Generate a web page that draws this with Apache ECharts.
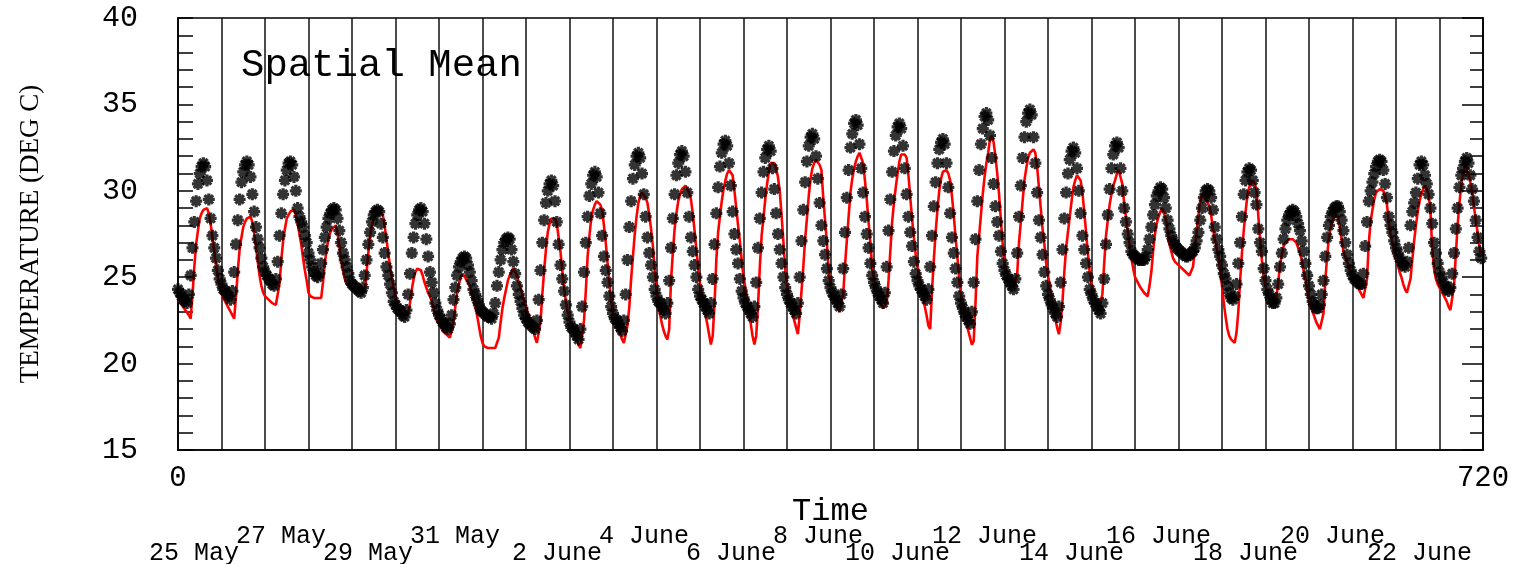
<!DOCTYPE html>
<html>
<head>
<meta charset="utf-8">
<script src="https://cdn.jsdelivr.net/npm/echarts@6/dist/echarts.min.js"></script>
<style>
html,body{margin:0;padding:0;background:#fff;}
#chart{width:1514px;height:564px;}
</style>
</head>
<body>
<div id="chart"></div>
<script>
// Hourly observed spatial-mean temperature (deg C), 30 days x 24 hours, hour 0 = 25 May 00h
const observed = [
24.3,24.1,23.9,23.7,23.6,23.5,24.0,25.1,26.7,28.2,29.4,30.4,31.0,31.4,31.6,31.4,30.6,29.5,28.4,27.4,26.7,26.1,25.4,24.9,
24.6,24.3,24.2,24.0,23.9,23.7,24.2,25.3,26.9,28.3,29.5,30.5,31.1,31.5,31.7,31.5,30.8,29.8,28.8,27.9,27.2,26.7,26.1,25.6,
25.3,25.1,24.9,24.8,24.6,24.5,24.9,25.9,27.4,28.7,29.8,30.6,31.2,31.6,31.7,31.5,30.8,30.0,29.0,28.5,28.2,27.9,27.4,27.0,
26.4,26.0,25.6,25.3,25.1,25.0,25.2,25.8,26.6,27.3,27.9,28.4,28.7,28.9,29.0,28.9,28.4,27.7,27.0,26.4,26.0,25.6,25.2,24.8,
24.6,24.5,24.4,24.3,24.2,24.1,24.4,25.1,26.0,26.9,27.6,28.2,28.6,28.8,28.9,28.8,28.1,27.3,26.4,25.6,25.1,24.6,24.1,23.6,
23.4,23.2,23.1,23.0,22.8,22.7,23.1,24.0,25.2,26.4,27.3,28.1,28.6,28.9,29.0,28.8,28.1,27.2,26.2,25.3,24.7,24.1,23.5,23.1,
22.8,22.6,22.4,22.3,22.1,22.0,22.3,22.8,23.7,24.4,25.1,25.6,25.9,26.1,26.2,26.1,25.7,25.3,24.8,24.3,24.0,23.7,23.4,23.1,
23.0,22.9,22.8,22.7,22.7,22.6,22.9,23.5,24.5,25.3,26.0,26.6,27.0,27.2,27.3,27.2,26.6,25.9,25.2,24.5,24.0,23.6,23.2,22.8,
22.6,22.4,22.3,22.2,22.1,22.0,22.5,23.7,25.4,27.0,28.3,29.3,30.0,30.4,30.6,30.3,29.4,28.2,26.9,25.7,24.9,24.2,23.4,22.8,
22.4,22.1,22.0,21.8,21.6,21.4,22.0,23.3,25.3,27.0,28.5,29.7,30.4,30.9,31.1,30.8,29.9,28.7,27.4,26.2,25.4,24.7,23.9,23.3,
22.9,22.6,22.5,22.3,22.1,21.9,22.5,24.0,26.0,27.9,29.4,30.7,31.5,32.0,32.2,31.9,31.0,29.8,28.5,27.3,26.4,25.7,25.0,24.3,
23.9,23.6,23.5,23.3,23.1,22.9,23.5,24.8,26.7,28.4,29.8,30.9,31.6,32.1,32.3,32.0,31.1,29.9,28.5,27.3,26.5,25.7,25.0,24.3,
23.9,23.7,23.5,23.3,23.1,22.9,23.5,24.9,26.9,28.7,30.2,31.4,32.2,32.7,32.9,32.6,31.6,30.3,28.8,27.5,26.6,25.8,24.9,24.2,
23.8,23.5,23.3,23.1,22.9,22.7,23.3,24.7,26.7,28.4,29.9,31.1,31.9,32.4,32.6,32.3,31.3,30.1,28.7,27.5,26.6,25.8,25.0,24.4,
24.0,23.7,23.5,23.3,23.1,22.9,23.5,25.0,27.1,28.9,30.5,31.7,32.6,33.1,33.3,33.0,32.0,30.7,29.3,28.0,27.1,26.3,25.5,24.8,
24.4,24.1,23.9,23.7,23.5,23.3,24.0,25.5,27.6,29.6,31.2,32.5,33.3,33.9,34.1,33.8,32.7,31.3,29.9,28.5,27.5,26.7,25.8,25.1,
24.7,24.4,24.1,23.9,23.7,23.5,24.1,25.6,27.7,29.5,31.1,32.3,33.2,33.7,33.9,33.6,32.6,31.3,29.8,28.5,27.6,26.8,25.9,25.2,
24.8,24.5,24.3,24.1,23.9,23.7,24.3,25.6,27.4,29.1,30.5,31.6,32.4,32.8,33.0,32.7,31.6,30.2,28.7,27.3,26.4,25.5,24.7,23.9,
23.5,23.2,22.9,22.7,22.5,22.3,23.0,24.7,27.2,29.4,31.2,32.7,33.6,34.3,34.5,34.1,33.2,31.9,30.4,29.1,28.2,27.4,26.5,25.8,
25.4,25.1,24.9,24.7,24.5,24.3,24.9,26.4,28.5,30.3,31.9,33.1,34.0,34.5,34.7,34.4,33.1,31.6,29.9,28.3,27.3,26.3,25.3,24.5,
24.0,23.7,23.4,23.2,22.9,22.7,23.3,24.7,26.6,28.4,29.9,31.0,31.8,32.3,32.5,32.2,31.3,30.0,28.7,27.4,26.6,25.8,25.0,24.3,
24.0,23.7,23.5,23.3,23.1,22.9,23.5,24.9,26.9,28.6,30.1,31.3,32.1,32.6,32.8,32.5,31.3,30.0,29.0,28.2,27.5,27.0,26.5,26.3,
26.2,26.1,26.0,26.0,26.0,26.0,26.2,26.6,27.2,27.9,28.6,29.2,29.7,30.0,30.2,30.1,29.6,29.0,28.3,27.8,27.4,27.1,26.9,26.7,
26.6,26.5,26.4,26.3,26.2,26.2,26.3,26.4,26.5,26.7,27.1,27.6,28.3,29.0,29.6,30.0,30.1,30.0,29.6,28.9,27.9,27.2,26.6,26.2,
25.7,25.2,24.9,24.5,24.1,23.8,23.7,23.9,24.6,25.8,27.0,28.5,29.8,30.6,31.1,31.3,31.2,30.6,29.9,29.2,27.8,27.0,26.5,25.5,
24.8,24.3,24.0,23.7,23.5,23.5,23.8,24.6,25.6,26.4,27.2,27.8,28.3,28.6,28.8,28.9,28.8,28.5,28.1,27.7,27.1,26.5,25.8,25.1,
24.5,24.0,23.6,23.4,23.2,23.2,23.4,24.0,24.8,26.2,27.3,28.0,28.5,28.8,29.0,29.1,29.1,28.8,28.3,27.7,27.0,26.3,25.8,25.4,
25.1,24.9,24.8,24.7,24.6,24.6,25.2,26.8,28.2,29.4,30.0,30.5,31.0,31.4,31.7,31.8,31.7,31.2,30.4,29.6,28.5,28.0,27.6,27.1,
26.7,26.4,26.1,25.9,25.7,25.6,25.9,26.7,28.0,28.8,29.3,29.9,30.7,31.5,31.7,31.5,30.9,30.4,29.8,29.0,28.1,27.0,26.4,25.8,
25.3,25.0,24.7,24.5,24.3,24.2,24.4,25.2,26.4,27.8,29.0,30.2,30.9,31.3,31.7,31.9,31.6,30.9,30.1,29.4,28.3,27.3,26.5,26.1
];

// Hourly model spatial-mean temperature (deg C), red line
const model = [
23.7,23.6,23.4,23.3,23.1,23.0,22.8,22.6,24.0,25.6,26.9,27.7,28.4,28.7,28.9,29.0,29.0,28.7,28.1,27.3,26.5,25.7,25.0,24.5,
24.1,23.8,23.6,23.4,23.2,23.0,22.8,22.6,23.9,25.4,26.6,27.3,27.9,28.2,28.4,28.5,28.5,28.2,27.6,26.8,25.9,25.1,24.5,24.1,
23.9,23.8,23.7,23.6,23.5,23.5,23.4,23.4,24.6,26.0,27.1,27.8,28.4,28.6,28.8,28.9,28.9,28.6,28.1,27.5,26.9,26.1,25.4,24.8,
24.1,23.9,23.8,23.8,23.8,23.8,23.8,23.8,24.7,25.8,26.6,27.2,27.6,27.8,27.9,28.0,27.6,26.8,26.0,25.4,24.9,24.6,24.5,24.4,
24.3,24.3,24.2,24.2,24.2,24.2,24.2,24.2,25.2,26.4,27.4,28.0,28.4,28.7,28.8,28.9,28.9,28.6,28.0,27.2,26.4,25.6,25.0,24.4,
23.8,23.5,23.2,23.0,22.9,22.9,22.9,22.9,23.5,24.3,24.9,25.3,25.5,25.6,25.4,25.1,24.7,24.4,24.1,23.9,23.6,23.2,22.8,22.5,
22.3,22.1,21.9,21.8,21.7,21.6,21.5,21.5,22.4,23.3,24.1,24.6,25.0,25.2,25.1,24.9,24.7,24.5,24.1,23.7,23.4,22.8,22.2,21.6,
21.2,21.0,20.9,20.9,20.9,20.9,20.9,20.9,21.0,21.5,22.4,23.2,23.8,24.3,24.8,25.1,25.3,25.5,25.4,25.1,24.7,24.4,24.0,23.6,
23.3,22.9,22.6,22.2,21.9,21.5,21.2,21.1,22.4,24.0,25.4,26.6,27.6,28.1,28.4,28.5,28.4,28.1,27.3,26.5,25.4,24.4,23.6,23.0,
22.6,22.2,21.9,21.7,21.4,21.1,20.9,20.9,22.5,24.2,26.2,27.4,28.4,28.9,29.2,29.4,29.4,29.2,28.9,28.0,27.0,25.8,24.7,23.6,
22.9,22.5,22.2,21.9,21.7,21.4,21.2,21.2,22.2,23.3,24.9,26.2,27.5,28.5,29.3,29.7,29.9,29.8,29.6,29.3,28.6,27.8,26.8,25.5,
24.3,23.4,22.8,22.3,21.9,21.6,21.4,22.0,24.8,26.4,27.8,28.7,29.4,29.8,30.1,30.2,30.3,30.2,29.9,29.5,28.7,27.7,26.6,25.6,
24.6,24.0,23.4,22.8,22.3,21.7,21.1,21.6,23.4,26.0,27.6,28.5,29.4,30.1,30.6,31.0,31.2,31.1,30.9,30.0,29.0,28.0,27.1,26.0,
25.0,24.4,23.7,23.0,22.3,21.6,21.1,21.6,23.3,25.6,27.4,28.4,29.5,30.4,31.1,31.6,31.7,31.6,31.3,30.8,30.0,28.6,27.1,25.5,
24.6,23.9,23.4,22.9,22.5,22.1,21.7,22.8,24.2,25.6,27.2,28.4,29.7,30.7,31.3,31.6,31.8,31.7,31.5,31.2,29.6,28.3,27.0,25.4,
24.6,24.1,23.8,23.5,23.2,23.0,22.9,24.0,25.7,27.1,28.5,29.9,30.7,31.3,31.7,32.0,32.2,32.1,31.6,30.6,29.5,28.2,27.0,25.6,
24.8,24.2,23.9,23.6,23.4,23.2,23.1,23.5,24.8,26.5,28.2,29.3,30.2,31.0,31.7,32.1,32.2,32.1,31.9,30.9,29.6,28.4,27.3,26.3,
25.6,25.1,24.5,23.9,23.3,22.8,22.2,22.0,24.2,26.0,27.6,28.9,30.0,30.7,31.1,31.2,31.2,31.0,30.6,29.7,28.6,27.3,26.2,24.9,
24.0,23.5,23.0,22.4,21.9,21.5,21.1,21.3,23.5,26.2,27.4,28.6,29.8,30.8,31.6,32.2,33.0,33.2,32.8,32.0,31.0,29.8,28.3,26.9,
25.8,25.4,25.1,24.8,24.6,24.4,24.4,25.2,27.0,28.2,29.4,30.6,31.3,31.9,32.2,32.3,32.4,32.2,31.4,30.2,29.0,27.8,26.9,25.8,
25.1,24.5,23.8,23.2,22.6,22.1,21.7,22.4,23.6,25.3,26.7,27.6,28.5,29.4,30.2,30.6,30.9,31.0,30.6,29.9,28.8,27.6,26.4,25.3,
24.6,24.1,23.7,23.4,23.2,23.1,24.0,25.8,27.4,28.3,29.2,29.8,30.3,30.6,31.0,31.2,31.1,30.4,29.3,28.5,27.7,26.9,26.1,25.5,
25.0,24.8,24.6,24.4,24.3,24.1,24.0,23.9,24.5,25.3,26.5,27.5,28.1,28.5,28.8,29.0,28.9,28.4,27.7,26.9,26.5,26.1,25.9,25.8,
25.7,25.6,25.5,25.4,25.3,25.2,25.1,25.0,25.6,26.6,27.6,28.6,29.4,29.8,29.7,29.5,29.3,29.1,28.6,27.8,27.2,26.7,26.2,25.4,
24.5,23.5,22.7,22.0,21.6,21.4,21.3,21.2,21.8,23.0,24.8,26.4,27.7,28.8,29.7,30.2,30.4,30.6,30.4,30.1,28.6,27.2,26.0,25.0,
24.5,24.1,23.9,23.8,23.7,23.7,23.8,24.7,25.7,26.3,26.8,27.0,27.1,27.2,27.2,27.2,27.1,27.0,26.7,26.4,26.0,25.4,24.9,24.3,
23.7,23.3,23.0,22.7,22.4,22.2,22.0,22.0,22.9,24.8,26.2,27.3,27.9,28.3,28.5,28.6,28.5,27.9,27.2,26.5,26.2,25.9,25.6,25.3,
25.0,24.8,24.6,24.4,24.2,24.0,23.8,23.7,24.9,27.0,28.2,28.9,29.5,29.9,30.0,30.1,30.1,30.0,29.7,29.2,28.2,27.5,27.0,26.5,
26.0,25.7,25.3,25.0,24.6,24.3,24.1,24.1,24.9,26.0,27.1,28.0,28.8,29.4,29.8,30.1,30.3,30.3,29.8,28.8,26.6,25.5,24.9,24.6,
24.4,24.2,24.0,23.8,23.6,23.3,23.1,23.1,24.5,26.3,28.0,29.3,30.3,31.0,31.4,31.3,31.0,30.5,29.9,29.1,28.3,27.6,26.8,26.2
];

// Date labels under the time axis (one every 2 days)
const dateLabels = ['25 May','27 May','29 May','31 May','2 June','4 June','6 June','8 June',
                    '10 June','12 June','14 June','16 June','18 June','20 June','22 June'];
// Tick labels
const xTickLabels = [0, 720];
const yTickLabels = [15, 20, 25, 30, 35, 40];

const titleText = 'Spatial Mean';
const xName = 'Time';
const yName = 'TEMPERATURE (DEG C)';

// asterisk symbol (4 crossing bars)
function asteriskPath(t) {
  let p = '';
  [0, 45, 90, 135].forEach(a => {
    const r = a * Math.PI / 180, c = Math.cos(r), s = Math.sin(r);
    const nx = -s * t, ny = c * t;
    const pts = [[-c + nx, -s + ny], [c + nx, s + ny], [c - nx, s - ny], [-c - nx, -s - ny]];
    p += 'M' + pts.map(q => (q[0] * 10).toFixed(2) + ' ' + (q[1] * 10).toFixed(2)).join(' L') + ' Z ';
  });
  return 'path://' + p;
}

const chart = echarts.init(document.getElementById('chart'), null, {renderer: 'canvas'});
const MONO = '"Liberation Mono", "DejaVu Sans Mono", monospace';
const SERIF = '"Liberation Serif", "DejaVu Serif", serif';

const option = {
  animation: false,
  backgroundColor: '#fff',
  grid: {left: 178, right: 31, top: 18, bottom: 114, show: true, borderColor: '#000', borderWidth: 1.5, backgroundColor: 'transparent'},
  xAxis: {
    type: 'value', min: xTickLabels[0], max: xTickLabels[xTickLabels.length - 1], interval: 24,
    axisLine: {show: true, lineStyle: {color: '#000', width: 1.5}},
    axisTick: {show: false},
    splitLine: {show: true, lineStyle: {color: '#111', width: 1.5}},
    axisLabel: {
      show: true, showMinLabel: true, showMaxLabel: true, margin: 14,
      color: '#000', fontFamily: MONO, fontSize: 29,
      formatter: v => xTickLabels.indexOf(v) >= 0 ? String(v) : ''
    }
  },
  yAxis: [{
    type: 'value', min: yTickLabels[0], max: yTickLabels[yTickLabels.length - 1], interval: 5,
    position: 'left',
    axisLine: {show: true, lineStyle: {color: '#000', width: 1.5}},
    axisTick: {show: true, inside: true, length: 15, lineStyle: {color: '#000', width: 1.5}},
    minorTick: {show: true, splitNumber: 5, length: 15, lineStyle: {color: '#000', width: 1.5}},
    splitLine: {show: false},
    axisLabel: {color: '#000', fontFamily: MONO, fontSize: 30, margin: 40,
      formatter: v => yTickLabels.indexOf(v) >= 0 ? String(v) : ''},
    name: yName, nameLocation: 'middle', nameRotate: 90, nameGap: 134,
    nameTextStyle: {color: '#000', fontFamily: SERIF, fontSize: 27}
  }, {
    type: 'value', min: yTickLabels[0], max: yTickLabels[yTickLabels.length - 1], interval: 5,
    position: 'right',
    axisLine: {show: true, lineStyle: {color: '#000', width: 1.5}},
    axisTick: {show: true, inside: true, length: 21, lineStyle: {color: '#000', width: 1.5}},
    minorTick: {show: true, splitNumber: 5, length: 13, lineStyle: {color: '#000', width: 1.5}},
    splitLine: {show: false},
    axisLabel: {show: false}
  }],
  series: [{
    type: 'line', name: 'model', yAxisIndex: 0,
    data: model.map((v, i) => [i, v]),
    showSymbol: false, symbol: 'none', silent: true, z: 2,
    lineStyle: {color: '#ff0000', width: 2.6}
  }, {
    type: 'scatter', name: 'observed', yAxisIndex: 0,
    data: observed.map((v, i) => [i, v]),
    symbol: asteriskPath(0.27), symbolSize: 12, silent: true, z: 3,
    itemStyle: {color: '#000'}
  }]
};
chart.setOption(option);

// texts: title, axis name, date labels
const graphics = [];
graphics.push({type: 'text', x: 241, y: 66, silent: true, z: 10,
  style: {text: titleText, font: '39px ' + MONO, fill: '#000', textAlign: 'left', textVerticalAlign: 'middle', align: 'left', verticalAlign: 'middle'}});
const plotMid = (chart.convertToPixel({xAxisIndex: 0}, 0) + chart.convertToPixel({xAxisIndex: 0}, 720)) / 2;
graphics.push({type: 'text', x: plotMid, y: 512, silent: true,
  style: {text: xName, font: '32px ' + MONO, fill: '#000', textAlign: 'center', textVerticalAlign: 'middle', align: 'center', verticalAlign: 'middle'}});
const fs = 25, cw = fs * 0.6;
dateLabels.forEach((lab, k) => {
  const anchor = chart.convertToPixel({xAxisIndex: 0}, 8.8 + 48 * k); // month word start
  const numLen = lab.indexOf(' ');
  const x = anchor - (numLen + 1) * cw;
  const y = (k % 2 === 0) ? 553 : 536;
  graphics.push({type: 'text', x: x, y: y, silent: true,
    style: {text: lab, font: fs + 'px ' + MONO, fill: '#000', textAlign: 'left', textVerticalAlign: 'middle', align: 'left', verticalAlign: 'middle'}});
});
chart.setOption({graphic: {elements: graphics}});
</script>
</body>
</html>
